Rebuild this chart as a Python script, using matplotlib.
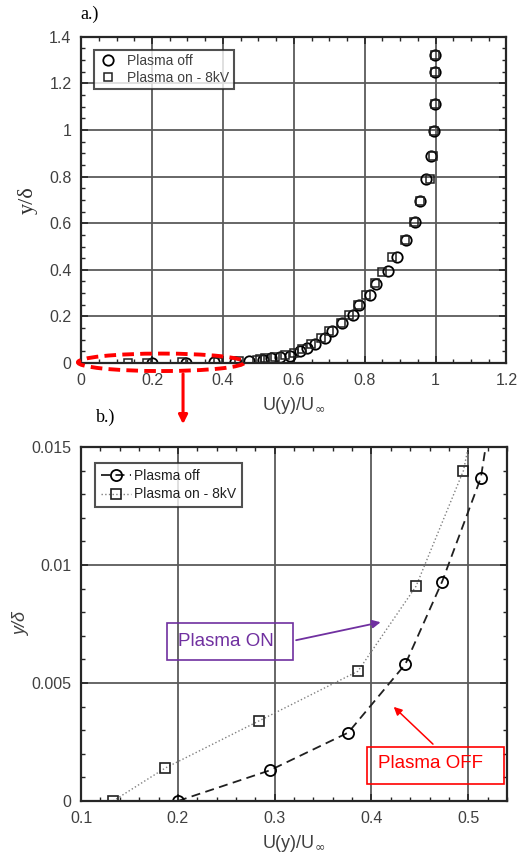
import numpy as np
import matplotlib
matplotlib.use('Agg')
import matplotlib.pyplot as plt
from matplotlib.patches import Ellipse, Rectangle
from matplotlib.ticker import MultipleLocator

plt.rcParams['font.family'] = ['Liberation Sans', 'DejaVu Sans']
plt.rcParams['mathtext.fontset'] = 'dejavusans'

# boundary layer profiles, U(y)/U_inf vs y/delta
u_off = [0.200, 0.295, 0.376, 0.435, 0.473, 0.513, 0.537, 0.562, 0.589, 0.617,
         0.636, 0.660, 0.688, 0.707, 0.737, 0.766, 0.783, 0.816, 0.832, 0.865,
         0.891, 0.916, 0.941, 0.957, 0.974, 0.988, 0.995, 0.998, 0.998, 0.998]
y_off = [0.0, 0.0013, 0.0029, 0.0058, 0.0093, 0.0137, 0.020, 0.025, 0.031, 0.050,
         0.064, 0.080, 0.107, 0.138, 0.171, 0.207, 0.250, 0.292, 0.339, 0.396,
         0.456, 0.528, 0.606, 0.694, 0.788, 0.890, 0.997, 1.112, 1.249, 1.323]

u_on = [0.133, 0.187, 0.284, 0.386, 0.446, 0.495, 0.505, 0.520, 0.548, 0.575,
        0.600, 0.622, 0.648, 0.676, 0.700, 0.733, 0.756, 0.782, 0.804, 0.828,
        0.850, 0.877, 0.915, 0.940, 0.957, 0.984, 0.993, 0.996, 0.998, 0.998, 0.998]
y_on = [0.0, 0.0014, 0.0034, 0.0055, 0.0091, 0.0140, 0.016, 0.020, 0.026, 0.034,
        0.045, 0.060, 0.080, 0.108, 0.138, 0.171, 0.207, 0.250, 0.292, 0.342,
        0.392, 0.453, 0.528, 0.606, 0.694, 0.788, 0.890, 0.997, 1.112, 1.249, 1.323]

lab_off = 'Plasma off'
lab_on = 'Plasma on - 8kV'
tcol = '#404040'


def style_axes(ax, xmaj, xmin, ymaj, ymin):
    ax.xaxis.set_major_locator(MultipleLocator(xmaj))
    ax.xaxis.set_minor_locator(MultipleLocator(xmin))
    ax.yaxis.set_major_locator(MultipleLocator(ymaj))
    ax.yaxis.set_minor_locator(MultipleLocator(ymin))
    ax.tick_params(which='both', direction='in', top=True, right=True,
                   colors='#262626', labelcolor=tcol, labelsize=11.5)
    ax.tick_params(which='major', length=5, width=1.2, pad=7)
    ax.tick_params(which='minor', length=3, width=1.0)
    ax.grid(True, which='major', color='#5a5a5a', lw=1.3)
    ax.set_axisbelow(True)
    for s in ax.spines.values():
        s.set_linewidth(1.6)
        s.set_color('#262626')


fig = plt.figure(figsize=(5.2, 8.59), dpi=100)

# ---- a.) full profile
ax1 = fig.add_axes([0.156, 0.5774, 0.818, 0.3797])
ax1.plot(u_off, y_off, 'o', ms=7.5, mfc='none', mec='black', mew=1.3, label=lab_off)
ax1.plot(u_on, y_on, 's', ms=6.0, mfc='none', mec='#202020', mew=1.1, label=lab_on)
ax1.set_xlim(0, 1.2)
ax1.set_ylim(0, 1.4)
style_axes(ax1, 0.2, 0.05, 0.2, 0.05)
ax1.set_xticks([0, 0.2, 0.4, 0.6, 0.8, 1.0, 1.2], ['0', '0.2', '0.4', '0.6', '0.8', '1', '1.2'])
ax1.set_yticks([0, 0.2, 0.4, 0.6, 0.8, 1.0, 1.2, 1.4],
               ['0', '0.2', '0.4', '0.6', '0.8', '1', '1.2', '1.4'])
ax1.set_xlabel(r'U(y)/U$_{\infty}$', fontsize=13, color=tcol, labelpad=5)
ax1.set_ylabel(r'y/δ', fontsize=16, family='Liberation Serif', color='#303030', labelpad=8)
leg1 = ax1.legend(loc='upper left', bbox_to_anchor=(0.030, 0.960), fontsize=10,
                  frameon=True, fancybox=False, handlelength=1.4, borderpad=0.3,
                  labelspacing=0.2, handletextpad=0.7, borderaxespad=0)
leg1.get_frame().set_edgecolor('#262626')
leg1.get_frame().set_linewidth(1.5)
for t in leg1.get_texts():
    t.set_color(tcol)

# red dashed ellipse around the near-wall points
ell = Ellipse((0.226, 0.003), 0.47, 0.075, fill=False, ec='red', lw=2.8,
              ls=(0, (3, 1.6)), clip_on=False, zorder=5)
ax1.add_patch(ell)
fig.text(0.173, 0.983, 'a.)', family='Liberation Serif', fontsize=13, ha='center', va='center')

# arrow from ellipse down to panel b
ax1.annotate('', xy=(0.352, 0.503), xytext=(0.352, 0.568), xycoords='figure fraction',
             textcoords='figure fraction',
             arrowprops=dict(arrowstyle='-|>', color='red', lw=2.2, mutation_scale=13))
fig.text(0.203, 0.514, 'b.)', family='Liberation Serif', fontsize=13, ha='center', va='center')

# ---- b.) zoom near the wall
ax2 = fig.add_axes([0.156, 0.0675, 0.819, 0.4121])
ax2.plot(u_off, y_off, '--o', color='#202020', lw=1.3, dashes=(5, 3), ms=8,
         mfc='none', mec='black', mew=1.3, label=lab_off)
ax2.plot(u_on, y_on, ':s', color='#808080', lw=1.0, ms=6.5, mfc='none',
         mec='#202020', mew=1.2, label=lab_on)
ax2.set_xlim(0.1, 0.54)
ax2.set_ylim(0, 0.015)
style_axes(ax2, 0.1, 0.02, 0.005, 0.001)
ax2.set_yticks([0, 0.005, 0.01, 0.015], ['0', '0.005', '0.01', '0.015'])
ax2.set_xlabel(r'U(y)/U$_{\infty}$', fontsize=13, color=tcol, labelpad=5)
ax2.set_ylabel('y/δ', fontsize=13, style='italic', color=tcol, labelpad=1)
leg2 = ax2.legend(loc='upper left', bbox_to_anchor=(0.033, 0.955), fontsize=10,
                  frameon=True, fancybox=False, handlelength=2.2, borderpad=0.4,
                  labelspacing=0.35, handletextpad=0.2, borderaxespad=0)
leg2.get_frame().set_edgecolor('#262626')
leg2.get_frame().set_linewidth(1.5)
for t in leg2.get_texts():
    t.set_color('#202020')

# annotation boxes
purple = '#7030A0'
ax2.add_patch(Rectangle((0.1885, 0.00597), 0.1308, 0.00158, fill=False, ec=purple, lw=1.2, zorder=6))
ax2.text(0.2495, 0.00678, 'Plasma ON', color=purple, fontsize=13.5, ha='center', va='center')
ax2.annotate('', xy=(0.4122, 0.0076), xytext=(0.3193, 0.00679),
             arrowprops=dict(arrowstyle='-|>', color=purple, lw=1.3, mutation_scale=12))

ax2.add_patch(Rectangle((0.395, 0.00071), 0.1418, 0.00159, fill=False, ec='red', lw=1.2, zorder=6))
ax2.text(0.461, 0.00157, 'Plasma OFF', color='red', fontsize=13.5, ha='center', va='center')
ax2.annotate('', xy=(0.4209, 0.00407), xytext=(0.4656, 0.00233),
             arrowprops=dict(arrowstyle='-|>', color='red', lw=1.1, mutation_scale=12))

fig.savefig('out.png', dpi=100)
